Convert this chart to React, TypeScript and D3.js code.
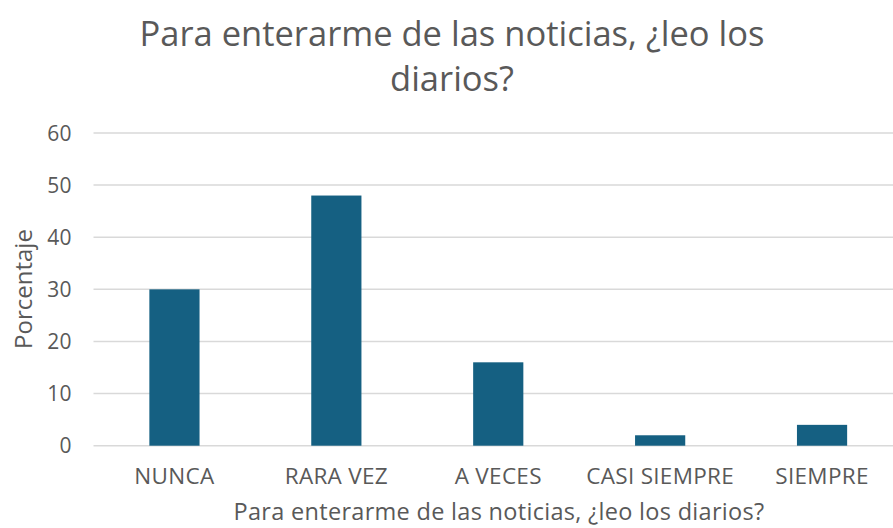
import React, { useEffect, useRef } from "react";
import * as d3 from "d3";

const categories = ["NUNCA", "RARA VEZ", "A VECES", "CASI SIEMPRE", "SIEMPRE"];
const values = [30, 48, 16, 2, 4];
const yTicks = [0, 10, 20, 30, 40, 50, 60];
const titleLines = ["Para enterarme de las noticias, ¿leo los", "diarios?"];
const xTitle = "Para enterarme de las noticias, ¿leo los diarios?";
const yTitle = "Porcentaje";

const W = 893;
const H = 528;

export default function App() {
  const ref = useRef<SVGSVGElement>(null);

  useEffect(() => {
    const svg = d3.select(ref.current);
    svg.selectAll("*").remove();
    const font = "'Open Sans', sans-serif";
    const grey = "#595959";

    const x = d3.scaleBand().domain(categories).range([93.5, 903]).paddingInner(0.69).paddingOuter(0.345);
    const y = d3.scaleLinear().domain([0, 60]).range([445.7, 133]);

    svg.append("rect").attr("width", W).attr("height", H).attr("fill", "#fff");

    svg.selectAll("line.grid")
      .data(yTicks)
      .enter()
      .append("line")
      .attr("class", "grid")
      .attr("x1", 93.5)
      .attr("x2", W)
      .attr("y1", (d) => y(d))
      .attr("y2", (d) => y(d))
      .attr("stroke", "#d9d9d9")
      .attr("stroke-width", 1.5);

    svg.selectAll("rect.bar")
      .data(values)
      .enter()
      .append("rect")
      .attr("class", "bar")
      .attr("x", (d, i) => x(categories[i])!)
      .attr("width", x.bandwidth())
      .attr("y", (d) => y(d))
      .attr("height", (d) => y(0) - y(d))
      .attr("fill", "#156082");

    svg.selectAll("text.ytick")
      .data(yTicks)
      .enter()
      .append("text")
      .attr("class", "ytick")
      .attr("x", 72)
      .attr("y", (d) => y(d))
      .attr("dy", "0.36em")
      .attr("text-anchor", "end")
      .attr("fill", grey)
      .style("font-family", font)
      .style("font-size", "21px")
      .style("letter-spacing", "0.4px")
      .text((d) => d);

    svg.selectAll("text.xtick")
      .data(categories)
      .enter()
      .append("text")
      .attr("class", "xtick")
      .attr("x", (d) => x(d)! + x.bandwidth() / 2)
      .attr("y", 484)
      .attr("text-anchor", "middle")
      .attr("fill", grey)
      .style("font-family", font)
      .style("font-size", "22.5px")
      .style("letter-spacing", "0.3px")
      .text((d) => d);

    svg.append("text")
      .attr("x", 499)
      .attr("y", 520)
      .attr("text-anchor", "middle")
      .attr("fill", grey)
      .style("font-family", font)
      .style("font-size", "23.5px")
      .style("letter-spacing", "0.3px")
      .text(xTitle);

    svg.append("text")
      .attr("transform", "translate(32,289) rotate(-90)")
      .attr("text-anchor", "middle")
      .attr("fill", grey)
      .style("font-family", font)
      .style("font-size", "24px")
      .text(yTitle);

    svg.selectAll("text.title")
      .data(titleLines)
      .enter()
      .append("text")
      .attr("class", "title")
      .attr("x", 452)
      .attr("y", (d, i) => 46 + i * 45)
      .attr("text-anchor", "middle")
      .attr("fill", grey)
      .style("font-family", font)
      .style("font-size", "34.5px")
      .text((d) => d);
  }, []);

  return (
    <svg ref={ref} width={W} height={H} style={{ position: "absolute", left: 0, top: 0 }} />
  );
}
